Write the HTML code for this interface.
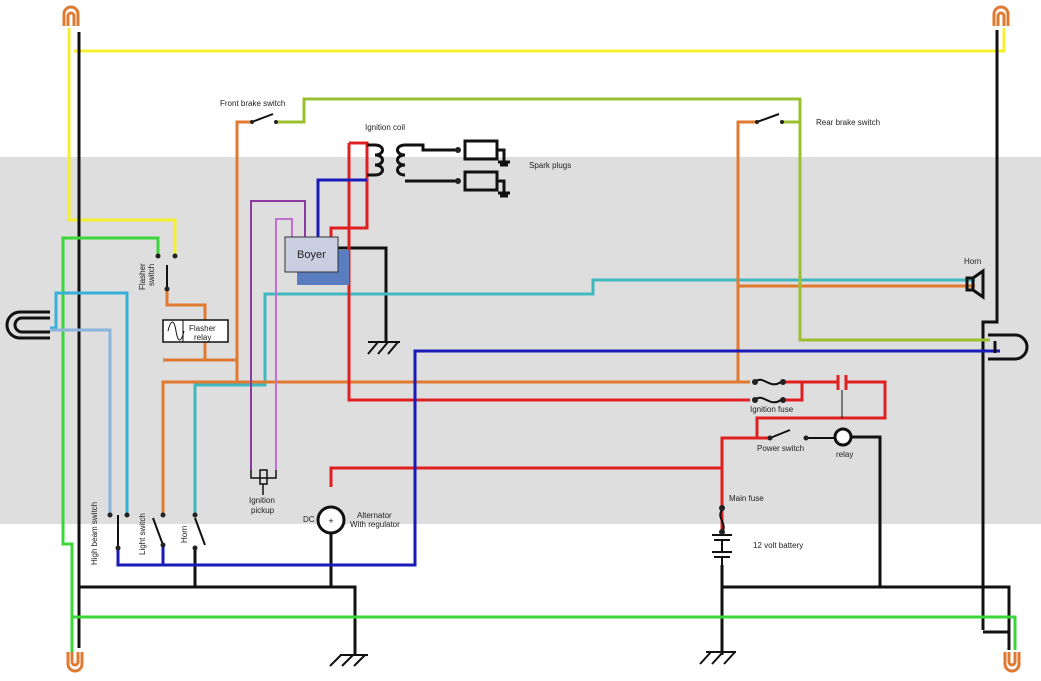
<!DOCTYPE html>
<html><head><meta charset="utf-8"><style>
html,body{margin:0;padding:0;background:#fff}
svg{display:block}
text{font-family:"Liberation Sans",sans-serif;font-size:8px;fill:#222}
</style></head><body>
<svg width="1041" height="681" viewBox="0 0 1041 681" xmlns="http://www.w3.org/2000/svg">
<rect x="0" y="157" width="1041" height="367" fill="#dedede"/>
<g fill="none" stroke-width="3" stroke-linejoin="miter">
<polyline stroke="#f4f030" points="69,28 69,220 175,220 175,256"/>
<polyline stroke="#f4f030" points="74,51 1004,51 1004,28"/>
<polyline stroke="#111" points="79,32 79,648"/>
<polyline stroke="#111" points="997,30 997,322 983,322 983,630"/>
<polyline stroke="#111" points="79,587 355,587 355,655"/>
<polyline stroke="#111" points="195,548 195,587"/>
<polyline stroke="#111" points="331,533 331,587"/>
<polyline stroke="#111" points="722,565 722,655"/>
<polyline stroke="#111" points="722,587 1009,587 1009,650"/>
<polyline stroke="#111" points="983,632 1009,632"/>
<polyline stroke="#111" points="338,248 386,248 386,342"/>
<polyline stroke="#111" points="852,437 880,437 880,587"/>
<polyline stroke="#3ad63a" points="158,256 158,238 63,238 63,544 72,544 72,655"/>
<polyline stroke="#3ad63a" points="72,617 1015,617 1015,650"/>
<polyline stroke="#36b0d8" points="50,328 56,328 56,293 127,293 127,515"/>
<polyline stroke="#8ab4dc" points="50,330 110,330 110,515"/>
<polyline stroke="#40b8c0" points="195,515 195,385 265,385 265,294 593,294 593,280 975,280"/>
<polyline stroke="#e07a30" points="252,122 237,122 237,382"/>
<polyline stroke="#e07a30" points="163,515 163,382 750,382"/>
<polyline stroke="#e07a30" points="167,289 167,305 205,305 205,320"/>
<polyline stroke="#e07a30" points="205,342 205,360 163,360"/>
<polyline stroke="#e07a30" points="205,360 237,360"/>
<polyline stroke="#e07a30" points="757,122 738,122 738,382"/>
<polyline stroke="#e07a30" points="738,286 975,286"/>
<polyline stroke="#9ac030" points="276,122 304,122 304,99 800,99 800,340 990,340"/>
<polyline stroke="#9ac030" points="782,122 800,122"/>
<polyline stroke="#e02020" points="349,143 367,143 367,228 331,228 331,237"/>
<polyline stroke="#e02020" points="349,143 349,400 750,400"/>
<polyline stroke="#e02020" points="331,487 331,468 722,468"/>
<polyline stroke="#e02020" points="722,508 722,438 770,438"/>
<polyline stroke="#e02020" points="757,438 757,418 885,418 885,382 846,382"/>
<polyline stroke="#e02020" points="838,382 783,382"/>
<polyline stroke="#e02020" points="783,400 802,400 802,382"/>
<polyline stroke="#e02020" points="722,510 722,530"/>
<polyline stroke="#1a1ab8" points="318,237 318,180 367,180"/>
<polyline stroke="#1a1ab8" points="118,548 118,565 415,565 415,351 1000,351"/>
<polyline stroke="#1a1ab8" points="163,545 163,565"/>
<polyline stroke="#8a3aa0" stroke-width="2" points="251,470 251,201 305,201 305,237"/>
<polyline stroke="#c070d0" stroke-width="2" points="276,470 276,219 292,219 292,237"/>
<polyline stroke="#111" stroke-width="1.5" points="251,470 251,478 276,478 276,470"/>
<path stroke="#111" d="M367,145 H375 c10,0 10,10 0,10 c10,0 10,10 0,10 c10,0 10,10 0,10 H367 M405,145 c-10,0 -10,10 0,10 c-10,0 -10,10 0,10 c-10,0 -10,10 0,10 M405,145 L423,145 L423,150 L458,150 M405,181 L458,181"/>
<rect x="465" y="141" width="32" height="18" stroke="#111"/>
<rect x="465" y="172" width="32" height="18" stroke="#111"/>
<path stroke="#111" d="M497,150 H504 V162 M497,181 H504 V193 M498,162 h12 M500,165 h8 M498,193 h12 M500,196 h8"/>
<path stroke="#111" stroke-width="2" d="M368,342 H400 M368,354 l10,-12 M378,354 l10,-12 M388,354 l10,-12"/>
<path stroke="#111" stroke-width="2" d="M340,655 H368 M330,666 l11,-11 M342,666 l11,-11 M354,666 l11,-11"/>
<path stroke="#111" stroke-width="2" d="M706,652 H736 M700,664 l11,-12 M712,664 l11,-12 M724,664 l11,-12"/>
<path stroke="#111" stroke-width="2" d="M252,122 L273,114 M757,122 L779,114 M167,265 V289 M118,548 V515 M153,518 L163,545 M195,518 L205,545 M770,438 L790,430"/>
<path stroke="#111" d="M50,312 H20 a13,13 0 0 0 0,26 H50 M50,318 H22 a7,7 0 0 0 0,14 H50"/>
<path stroke="#111" d="M988,335 H1015 a12,12 0 0 1 0,24 H988 M995,341 V353"/>
<path stroke="#e07a30" d="M64,26 V14 a7,7 0 0 1 14,0 V26 M68,26 V16 a3,3 0 0 1 6,0 V26"/>
<path stroke="#e07a30" d="M994,26 V14 a7,7 0 0 1 14,0 V26 M998,26 V16 a3,3 0 0 1 6,0 V26"/>
<path stroke="#e07a30" d="M68,652 V664 a7,7 0 0 0 14,0 V652 M72,652 V662 a3,3 0 0 0 6,0 V652"/>
<path stroke="#e07a30" d="M1005,652 V664 a7,7 0 0 0 14,0 V652 M1009,652 V662 a3,3 0 0 0 6,0 V652"/>
<path stroke="#111" d="M967,278 h6 v12 h-6 z M973,278 l10,-7 v26 l-10,-7"/>
<path stroke="#111" stroke-width="2" d="M755,382 c8,-8 14,8 26,0 M755,400 c8,-8 14,8 26,0 M722,510 c-6,8 6,14 0,22"/>
<path stroke="#e02020" d="M838,375 V390 M846,375 V390"/>
<path stroke="#111" stroke-width="1" d="M842,390 V418"/>
<circle cx="843" cy="437" r="8" stroke="#111" fill="#fff"/>
<path stroke="#111" stroke-width="2" d="M806,438 H835"/>
<path stroke="#111" stroke-width="2" d="M712,535 H732 M714,540 H730 M712,552 H732 M714,557 H730 M722,540 V552 M722,557 V565"/>
<circle cx="331" cy="520" r="13" stroke="#111" fill="#fff"/>
<rect x="163" y="320" width="65" height="22" stroke="#111" stroke-width="1.5" fill="#fff"/>
<path stroke="#111" stroke-width="1" d="M183,320 V342 M168,331 c3,-12 6,-12 8,0 c2,12 5,12 8,0"/>
<rect x="260" y="470" width="7" height="14" stroke="#111" stroke-width="1.5"/>
<path stroke="#111" stroke-width="1.5" d="M263,484 V495"/>
</g>
<g fill="#222">
<circle cx="158" cy="256" r="2.5"/><circle cx="175" cy="256" r="2.5"/><circle cx="167" cy="289" r="2.5"/>
<circle cx="110" cy="515" r="2.5"/><circle cx="127" cy="515" r="2.5"/><circle cx="163" cy="515" r="2.5"/><circle cx="195" cy="515" r="2.5"/>
<circle cx="118" cy="548" r="2.5"/><circle cx="163" cy="545" r="2.5"/><circle cx="195" cy="548" r="2.5"/>
<circle cx="458" cy="150" r="3"/><circle cx="458" cy="181" r="3"/>
<circle cx="252" cy="122" r="2"/><circle cx="276" cy="122" r="2"/><circle cx="757" cy="122" r="2"/><circle cx="782" cy="122" r="2"/>
<circle cx="755" cy="382" r="3"/><circle cx="783" cy="382" r="3"/><circle cx="755" cy="400" r="3"/><circle cx="783" cy="400" r="3"/>
<circle cx="722" cy="508" r="3"/><circle cx="722" cy="532" r="3"/><circle cx="770" cy="438" r="2.5"/><circle cx="806" cy="438" r="2.5"/>
</g>
<rect x="297" y="250" width="52" height="35" fill="#5a7dc0"/>
<rect x="285" y="237" width="53" height="35" fill="#c9cfe0" stroke="#333" stroke-width="1"/>
<text x="297" y="258" style="font-size:11px">Boyer</text>
<text x="331" y="524" style="font-size:9px;fill:#111" text-anchor="middle">+ </text>
<text x="220" y="106">Front brake switch</text>
<text x="365" y="130">Ignition coil</text>
<text x="529" y="168">Spark plugs</text>
<text x="816" y="125">Rear brake switch</text>
<text x="964" y="264">Horn</text>
<text x="189" y="331">Flasher</text>
<text x="194" y="340">relay</text>
<text x="249" y="503">Ignition</text>
<text x="251" y="513">pickup</text>
<text x="303" y="522">DC</text>
<text x="357" y="518">Alternator</text>
<text x="350" y="527">With regulator</text>
<text x="750" y="412">Ignition fuse</text>
<text x="757" y="451">Power switch</text>
<text x="836" y="457">relay</text>
<text x="729" y="501">Main fuse</text>
<text x="753" y="548">12 volt battery</text>
<text transform="translate(97,565) rotate(-90)">High beam switch</text>
<text transform="translate(145,555) rotate(-90)">Light switch</text>
<text transform="translate(187,543) rotate(-90)">Horn</text>
<text transform="translate(145,290) rotate(-90)">Flasher</text>
<text transform="translate(154,286) rotate(-90)">switch</text>
</svg>
</body></html>
